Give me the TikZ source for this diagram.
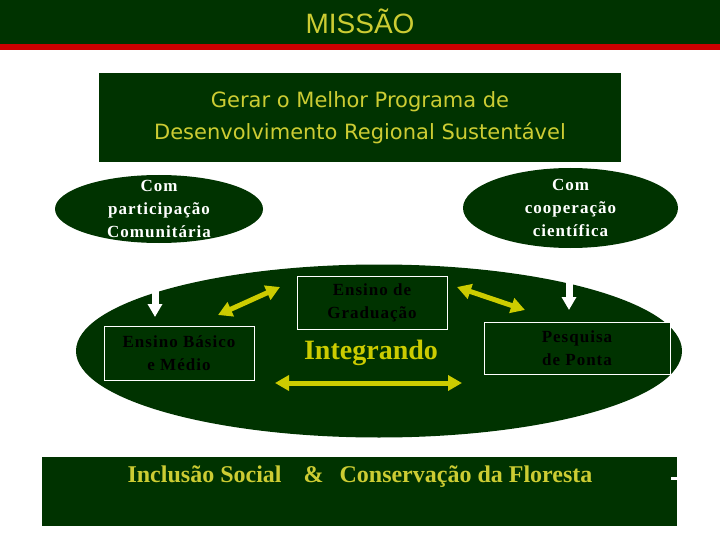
\documentclass[tikz,border=0pt]{standalone}
\usepackage{fontspec}
\setmainfont{Liberation Serif}
\newfontfamily\arialf{Liberation Sans}
\newfontfamily\tahomaf{DejaVu Sans}
\newfontfamily\spacedserif[LetterSpace=6]{Liberation Serif}
\usetikzlibrary{arrows.meta,shapes.geometric}
\definecolor{dkgreen}{RGB}{0,51,0}
\definecolor{ytext}{RGB}{204,204,51}
\definecolor{yarrow}{RGB}{204,204,0}
\definecolor{topred}{RGB}{204,0,0}
\tikzset{
  ovalbg/.style={ellipse, fill=dkgreen, inner sep=0pt},
  ovaltext/.style={align=center, text=white, font=\spacedserif\bfseries\fontsize{17}{23}\selectfont, inner sep=0pt},
  unitbox/.style={draw=white, line width=1pt, fill=dkgreen, inner sep=0pt, align=center,
     text=black, font=\spacedserif\bfseries\fontsize{17}{23}\selectfont},
  yarr/.style={draw=yarrow, line width=5pt, {Triangle[length=14pt,width=15pt]}-{Triangle[length=14pt,width=15pt]}},
  warr/.style={draw=white, line width=7pt, -{Triangle[length=13pt,width=14pt]}}
}
\begin{document}
\begin{tikzpicture}[x=1pt,y=-1pt]
\useasboundingbox (0,0) rectangle (720,540);
\fill[white] (0,0) rectangle (720,540);
% top bar
\fill[dkgreen] (0,0) rectangle (720,44);
\fill[topred] (0,44) rectangle (720,50);
\node[text=ytext, font=\arialf\fontsize{28}{30}\selectfont, inner sep=0pt] (title) at (360,21) {MISSÃO};
% mission box
\node[fill=dkgreen, minimum width=522pt, minimum height=89pt, inner sep=0pt, align=center,
  text=ytext, font=\tahomaf\fontsize{21}{32}\selectfont] (mission) at (360,117.5)
  {Gerar o Melhor Programa de\\Desenvolvimento Regional Sustentável};
% small ellipses
\node[ovalbg, minimum width=208pt, minimum height=68pt] (lell) at (159,209) {};
\node[ovaltext] (ltext) at (159,209) {Com\\participação\\Comunitária};
\node[ovalbg, minimum width=215pt, minimum height=80pt] (rell) at (570.5,208) {};
\node[ovaltext] (rtext) at (570.5,208) {Com\\cooperação\\científica};
% big ellipse
\node[ovalbg, minimum width=606pt, minimum height=173pt] (big) at (379,351) {};
% unit boxes
\node[unitbox, minimum width=150pt, minimum height=54pt] (basic) at (179,353) {Ensino Básico\\e Médio};
\node[unitbox, minimum width=150pt, minimum height=53pt] (grad) at (372,302.5) {Ensino de\\Graduação};
\node[unitbox, minimum width=186pt, minimum height=52pt] (pesq) at (577,348) {Pesquisa\\de Ponta};
\node[text=yarrow, font=\bfseries\fontsize{28}{30}\selectfont, inner sep=0pt] (integ) at (371,353) {Integrando};
% yellow arrows
\coordinate (h1) at (275,383);
\coordinate (h2) at (462,383);
\draw[yarr] (h1) -- (h2);
\coordinate (dl1) at (218,315);
\coordinate (dl2) at (280,287);
\draw[yarr] (dl1) -- (dl2);
\coordinate (dr1) at (457,287);
\coordinate (dr2) at (525,310);
\draw[yarr] (dr1) -- (dr2);
% white arrows
\coordinate (wl1) at (155,286);
\coordinate (wl2) at (155,317);
\draw[warr] (wl1) -- (wl2);
\coordinate (wr1) at (569,279);
\coordinate (wr2) at (569,310);
\draw[warr] (wr1) -- (wr2);
% bottom box
\node[fill=dkgreen, minimum width=635pt, minimum height=69pt, inner sep=0pt] (bottom) at (359.5,491.5) {};
\node[text=ytext, font=\bfseries\fontsize{24}{26}\selectfont, inner sep=0pt, anchor=base] (btext) at (360,482)
  {Inclusão Social\hspace{22pt}\&\hspace{16pt}Conservação da Floresta};
\fill[white] (671,477) rectangle (677,480);
\end{tikzpicture}
\end{document}
